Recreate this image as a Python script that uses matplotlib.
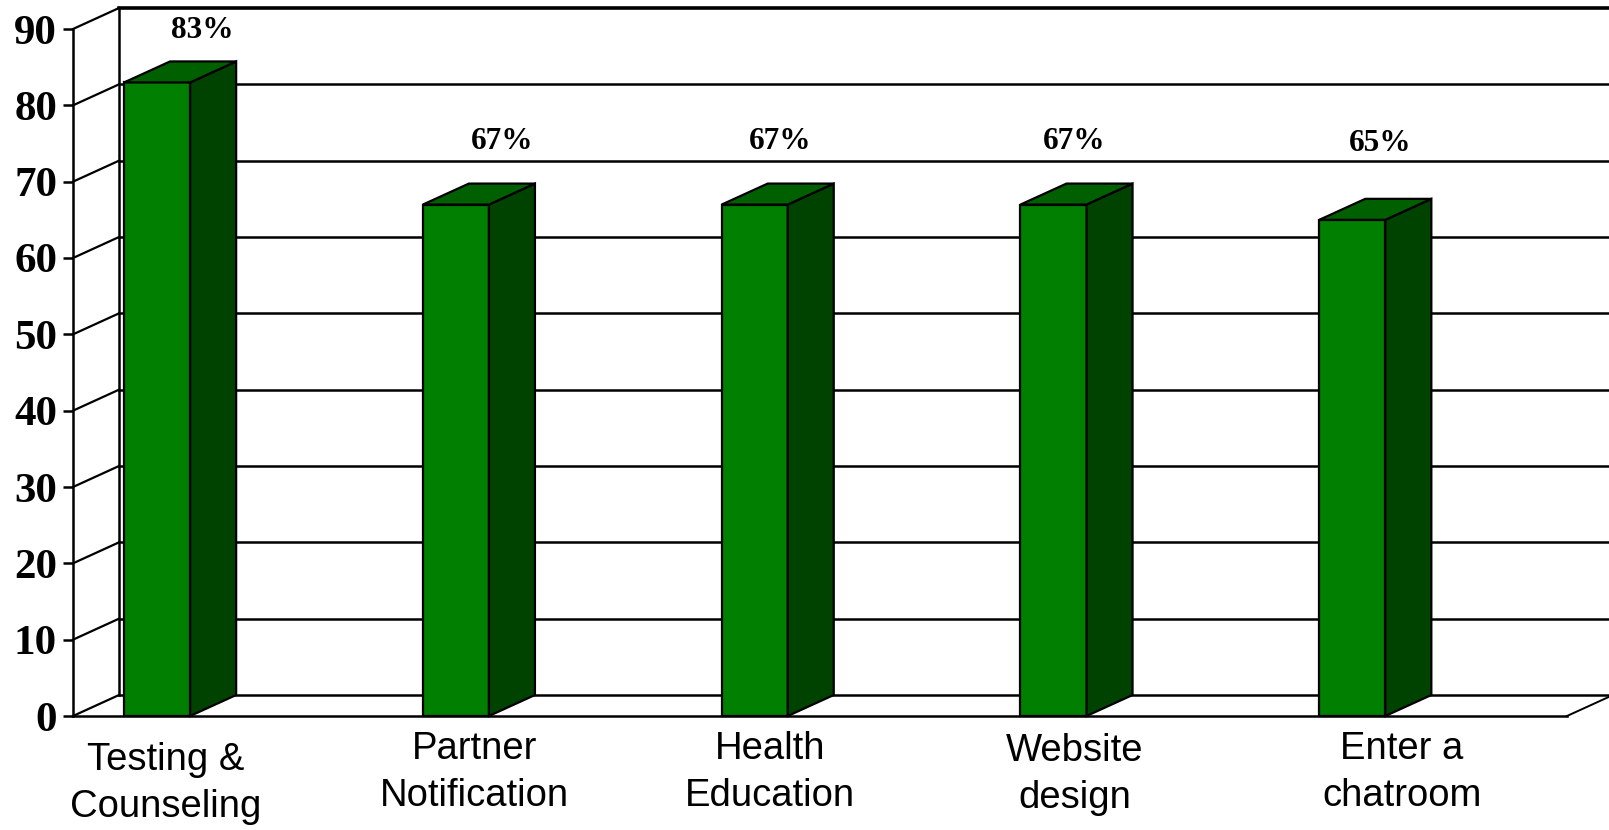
import matplotlib.pyplot as plt
from matplotlib.patches import Polygon

# Survey results
categories = ["Testing &\nCounseling", "Partner\nNotification", "Health\nEducation",
              "Website\ndesign", "Enter a\nchatroom"]
values = [83, 67, 67, 67, 65]
value_labels = ["83%", "67%", "67%", "67%", "65%"]
yticks = [0, 10, 20, 30, 40, 50, 60, 70, 80, 90]

# Layout of the pseudo-3D box (data units)
DX, DY = 0.154, 2.75          # depth offset of the back wall
BAR_LEFT, BAR_W = 0.171, 0.221
FRONT = "#007F00"
TOP = "#006000"
SIDE = "#004200"
# where the text sits in each category slot
cat_label_x = [0.311, 0.345, 0.333, 0.353, 0.448]
cat_label_y = [-3.4, -1.9, -1.9, -2.2, -1.9]
val_label_x = [0.432, 0.436, 0.366, 0.350, 0.374]
val_label_y = [89.8, 75.3, 75.3, 75.3, 75.0]

W, H = 1609, 830
fig = plt.figure(figsize=(W / 100, H / 100), dpi=100)
ax = fig.add_axes([73 / W, (H - 716) / H, (1567 - 73) / W, (716 - 29) / H])
ax.set_xlim(0, 5)
ax.set_ylim(0, 90)
n = len(categories)

# back wall gridlines and the slanted lines on the side wall
for v in yticks:
    lw = 2.6 if v == yticks[-1] else 1.8
    ax.plot([DX, n + DX + 0.2], [v + DY, v + DY], color="black", lw=lw,
            clip_on=False, zorder=1)
    ax.plot([0, DX], [v, v + DY], color="black", lw=1.6, clip_on=False, zorder=1)
ax.plot([DX, DX], [DY, yticks[-1] + DY], color="black", lw=1.8, clip_on=False, zorder=1)
# right edge of the floor
ax.plot([n, n + DX], [0, DY], color="black", lw=1.4, clip_on=False, zorder=1)

for k, v in enumerate(values):
    x0 = k + BAR_LEFT
    x1 = x0 + BAR_W
    front = Polygon([(x0, 0), (x1, 0), (x1, v), (x0, v)], closed=True,
                    facecolor=FRONT, edgecolor="black", lw=1.6, zorder=3, clip_on=False)
    side = Polygon([(x1, 0), (x1 + DX, DY), (x1 + DX, v + DY), (x1, v)], closed=True,
                   facecolor=SIDE, edgecolor="black", lw=1.6, zorder=3, clip_on=False)
    top = Polygon([(x0, v), (x1, v), (x1 + DX, v + DY), (x0 + DX, v + DY)], closed=True,
                  facecolor=TOP, edgecolor="black", lw=1.6, zorder=3, clip_on=False)
    for p in (front, side, top):
        ax.add_patch(p)
    ax.text(k + val_label_x[k], val_label_y[k], value_labels[k], ha="center", va="center",
            fontsize=22.5, fontweight="bold", family="Liberation Serif", zorder=5)
    ax.text(k + cat_label_x[k], cat_label_y[k], categories[k], ha="center", va="top",
            fontsize=27.5, family="Liberation Sans", linespacing=1.4)

for s in ("top", "right"):
    ax.spines[s].set_visible(False)
ax.spines["left"].set_linewidth(1.8)
ax.spines["bottom"].set_linewidth(1.8)
ax.set_yticks(yticks)
ax.set_yticklabels([str(t) for t in yticks], fontsize=31, fontweight="bold",
                   family="Liberation Serif")
ax.tick_params(axis="y", length=7.5, width=1.8, pad=4)
ax.set_xticks([])
ax.patch.set_visible(False)

fig.savefig("out.png", dpi=100)
